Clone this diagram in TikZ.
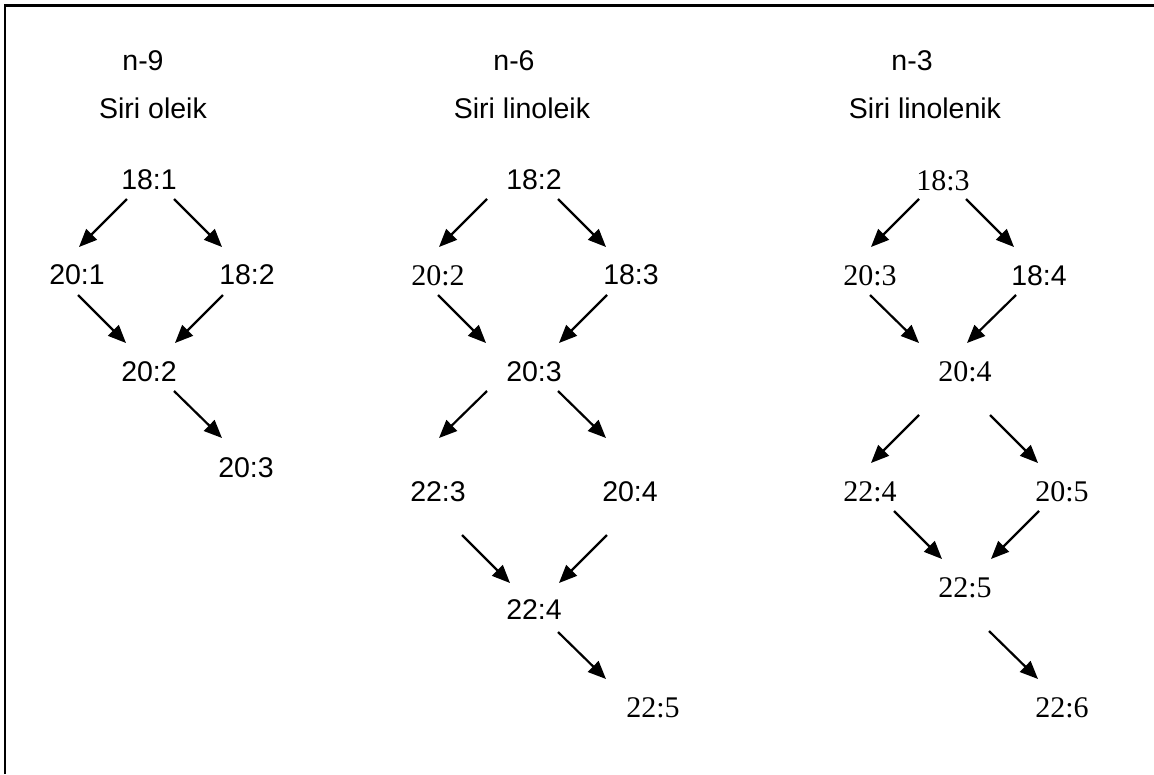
\documentclass[tikz,border=0pt]{standalone}
\usepackage{fontspec}
\setmainfont{Liberation Serif}
\newfontfamily\arialfont{Liberation Sans}
\usetikzlibrary{arrows.meta}
\tikzset{
  sanslbl/.style={inner sep=0pt, font=\arialfont\fontsize{28.5}{34}\selectfont},
  seriflbl/.style={inner sep=0pt, font=\fontsize{30}{36}\selectfont},
  headlbl/.style={sanslbl, anchor=base},
  arr/.style={line width=2.2pt, -{Triangle[length=18pt,width=15pt]}}
}
\begin{document}
\begin{tikzpicture}[x=1pt,y=-1pt]
  \useasboundingbox (0,0) rectangle (1154,774);
  % frame (top and left only)
  \draw[line width=2.8pt] (5,774) -- (5,5.5) -- (1154,5.5);
  % headings
  \node[headlbl] (h9) at (143,70) {n-9};
  \node[headlbl] (s9) at (153,118) {Siri oleik};
  \node[headlbl] (h6) at (514,70) {n-6};
  \node[headlbl] (s6) at (522,118) {Siri linoleik};
  \node[headlbl] (h3) at (912,70) {n-3};
  \node[headlbl] (s3) at (925,118) {Siri linolenik};
  % n-9 series
  \node[sanslbl] (l181) at (149,180) {18:1};
  \node[sanslbl] (l201) at (77,275) {20:1};
  \node[sanslbl] (l182) at (247,275) {18:2};
  \node[sanslbl] (l202) at (149,372) {20:2};
  \node[sanslbl] (l203) at (246,468) {20:3};
  % n-6 series
  \node[sanslbl] (m182) at (534,180) {18:2};
  \node[seriflbl] (m202) at (438,276) {20:2};
  \node[sanslbl] (m183) at (631,275) {18:3};
  \node[sanslbl] (m203) at (534,372) {20:3};
  \node[sanslbl] (m223) at (438,492) {22:3};
  \node[sanslbl] (m204) at (630,492) {20:4};
  \node[sanslbl] (m224) at (534,610) {22:4};
  \node[seriflbl] (m225) at (653,708) {22:5};
  % n-3 series
  \node[seriflbl] (r183) at (943,181) {18:3};
  \node[seriflbl] (r203) at (870,276) {20:3};
  \node[sanslbl] (r184) at (1039,276) {18:4};
  \node[seriflbl] (r204) at (965,372) {20:4};
  \node[seriflbl] (r224) at (870,492) {22:4};
  \node[seriflbl] (r205) at (1062,492) {20:5};
  \node[seriflbl] (r225) at (965,588) {22:5};
  \node[seriflbl] (r226) at (1062,708) {22:6};
  % conversions: source/offset/target/offset
  \foreach \from/\fx/\fy/\to/\tx/\ty in {
    l181/-22/19/l201/2/-28, l181/25/19/l182/-25/-28,
    l201/1/20/l202/-23/-29, l182/-24/20/l202/26/-29,
    l202/25/19/l203/-24/-30,
    m182/-47/19/m202/1/-29, m182/24/19/m183/-25/-28,
    m202/0/19/m203/-48/-29, m183/-24/20/m203/25/-29,
    m203/-47/19/m223/1/-54, m203/24/19/m204/-24/-54,
    m223/24/43/m224/-24/-27, m204/-23/43/m224/25/-27,
    m224/24/22/m225/-47/-29,
    r183/-24/18/r203/1/-29, r183/23/18/r184/-25/-29,
    r203/0/19/r204/-46/-29, r184/-23/19/r204/2/-29,
    r204/-46/43/r224/1/-29, r204/25/43/r205/-24/-29,
    r224/24/19/r225/-23/-29, r205/-23/19/r225/26/-29,
    r225/24/43/r226/-24/-29} {
    \draw[arr] ([shift={(\fx,\fy)}]\from.center) -- ([shift={(\tx,\ty)}]\to.center);
  }
\end{tikzpicture}
\end{document}
